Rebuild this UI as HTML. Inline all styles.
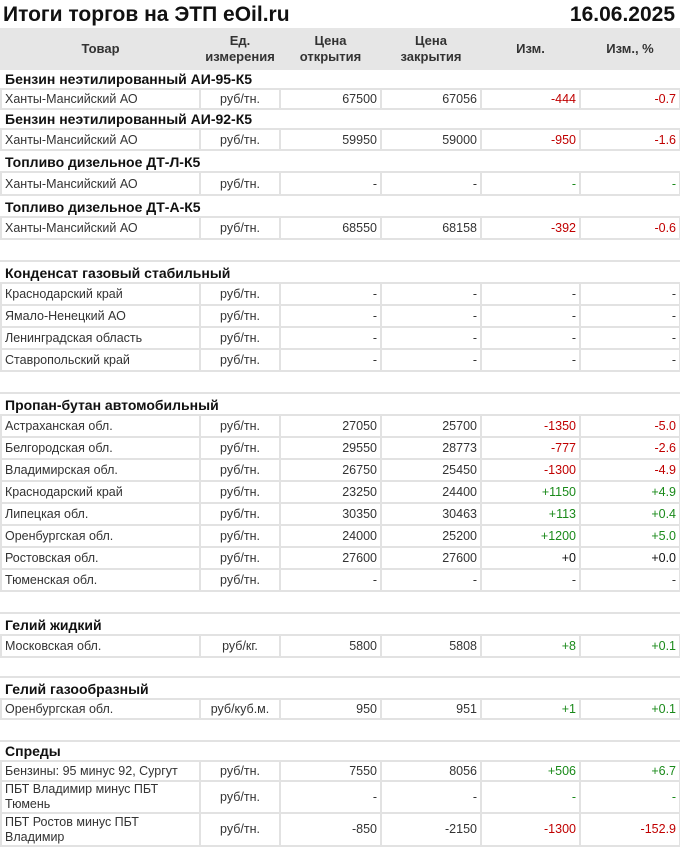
<!DOCTYPE html>
<html><head><meta charset="utf-8"><style>
body{margin:0;background:#fff;width:680px;height:849px;overflow:hidden;font-family:"Liberation Sans","DejaVu Sans",sans-serif;}
.t{position:absolute;top:3px;font-weight:bold;font-size:21px;color:#111;}
table{position:absolute;left:0;top:28px;border-collapse:collapse;table-layout:fixed;width:679px;}
td{padding:0 3px;font-size:12.5px;color:#333;border:2px solid #e2e2e2;white-space:nowrap;overflow:hidden;}
tr.h td{background:#e6e6e6;border-color:#e6e6e6;font-weight:bold;font-size:13px;color:#333;text-align:center;line-height:16px;}
tr.s td{font-weight:bold;font-size:14px;color:#111;border-left-color:#fff;border-right-color:#fff;border-top:none;vertical-align:bottom;padding-bottom:1px;}
tr.e td{border-left-color:#fff;border-right-color:#fff;}
td.c{text-align:center}td.r{text-align:right}
.red{color:#c00000}.grn{color:#1a8a1a}.blk{color:#111}
tr.d2 td{white-space:normal;line-height:15px;}
</style></head><body>
<div class="t" style="left:3px">Итоги торгов на ЭТП eOil.ru</div>
<div class="t" style="right:5px">16.06.2025</div>
<table>
<colgroup><col style="width:199px"><col style="width:80px"><col style="width:101px"><col style="width:100px"><col style="width:99px"><col style="width:100px"></colgroup>
<tr class="h" style="height:40px"><td>Товар</td><td>Ед.<br>измерения</td><td>Цена<br>открытия</td><td>Цена<br>закрытия</td><td>Изм.</td><td>Изм., %</td></tr>
<tr class="s" style="height:20px"><td colspan="6">Бензин неэтилированный АИ-95-К5</td></tr>
<tr style="height:20px"><td>Ханты-Мансийский АО</td><td class="c">руб/тн.</td><td class="r">67500</td><td class="r">67056</td><td class="r red">-444</td><td class="r red">-0.7</td></tr>
<tr class="s" style="height:20px"><td colspan="6">Бензин неэтилированный АИ-92-К5</td></tr>
<tr style="height:21px"><td>Ханты-Мансийский АО</td><td class="c">руб/тн.</td><td class="r">59950</td><td class="r">59000</td><td class="r red">-950</td><td class="r red">-1.6</td></tr>
<tr class="s" style="height:22px"><td colspan="6">Топливо дизельное ДТ-Л-К5</td></tr>
<tr style="height:23px"><td>Ханты-Мансийский АО</td><td class="c">руб/тн.</td><td class="r">-</td><td class="r">-</td><td class="r grn">-</td><td class="r grn">-</td></tr>
<tr class="s" style="height:22px"><td colspan="6">Топливо дизельное ДТ-А-К5</td></tr>
<tr style="height:22px"><td>Ханты-Мансийский АО</td><td class="c">руб/тн.</td><td class="r">68550</td><td class="r">68158</td><td class="r red">-392</td><td class="r red">-0.6</td></tr>
<tr class="e" style="height:22px"><td colspan="6"></td></tr>
<tr class="s" style="height:22px"><td colspan="6">Конденсат газовый стабильный</td></tr>
<tr style="height:22px"><td>Краснодарский край</td><td class="c">руб/тн.</td><td class="r">-</td><td class="r">-</td><td class="r">-</td><td class="r">-</td></tr>
<tr style="height:22px"><td>Ямало-Ненецкий АО</td><td class="c">руб/тн.</td><td class="r">-</td><td class="r">-</td><td class="r">-</td><td class="r">-</td></tr>
<tr style="height:22px"><td>Ленинградская область</td><td class="c">руб/тн.</td><td class="r">-</td><td class="r">-</td><td class="r">-</td><td class="r">-</td></tr>
<tr style="height:22px"><td>Ставропольский край</td><td class="c">руб/тн.</td><td class="r">-</td><td class="r">-</td><td class="r">-</td><td class="r">-</td></tr>
<tr class="e" style="height:22px"><td colspan="6"></td></tr>
<tr class="s" style="height:22px"><td colspan="6">Пропан-бутан автомобильный</td></tr>
<tr style="height:22px"><td>Астраханская обл.</td><td class="c">руб/тн.</td><td class="r">27050</td><td class="r">25700</td><td class="r red">-1350</td><td class="r red">-5.0</td></tr>
<tr style="height:22px"><td>Белгородская обл.</td><td class="c">руб/тн.</td><td class="r">29550</td><td class="r">28773</td><td class="r red">-777</td><td class="r red">-2.6</td></tr>
<tr style="height:22px"><td>Владимирская обл.</td><td class="c">руб/тн.</td><td class="r">26750</td><td class="r">25450</td><td class="r red">-1300</td><td class="r red">-4.9</td></tr>
<tr style="height:22px"><td>Краснодарский край</td><td class="c">руб/тн.</td><td class="r">23250</td><td class="r">24400</td><td class="r grn">+1150</td><td class="r grn">+4.9</td></tr>
<tr style="height:22px"><td>Липецкая обл.</td><td class="c">руб/тн.</td><td class="r">30350</td><td class="r">30463</td><td class="r grn">+113</td><td class="r grn">+0.4</td></tr>
<tr style="height:22px"><td>Оренбургская обл.</td><td class="c">руб/тн.</td><td class="r">24000</td><td class="r">25200</td><td class="r grn">+1200</td><td class="r grn">+5.0</td></tr>
<tr style="height:22px"><td>Ростовская обл.</td><td class="c">руб/тн.</td><td class="r">27600</td><td class="r">27600</td><td class="r blk">+0</td><td class="r blk">+0.0</td></tr>
<tr style="height:22px"><td>Тюменская обл.</td><td class="c">руб/тн.</td><td class="r">-</td><td class="r">-</td><td class="r">-</td><td class="r">-</td></tr>
<tr class="e" style="height:22px"><td colspan="6"></td></tr>
<tr class="s" style="height:22px"><td colspan="6">Гелий жидкий</td></tr>
<tr style="height:22px"><td>Московская обл.</td><td class="c">руб/кг.</td><td class="r">5800</td><td class="r">5808</td><td class="r grn">+8</td><td class="r grn">+0.1</td></tr>
<tr class="e" style="height:20px"><td colspan="6"></td></tr>
<tr class="s" style="height:22px"><td colspan="6">Гелий газообразный</td></tr>
<tr style="height:20px"><td>Оренбургская обл.</td><td class="c">руб/куб.м.</td><td class="r">950</td><td class="r">951</td><td class="r grn">+1</td><td class="r grn">+0.1</td></tr>
<tr class="e" style="height:22px"><td colspan="6"></td></tr>
<tr class="s" style="height:20px"><td colspan="6">Спреды</td></tr>
<tr style="height:20px"><td>Бензины: 95 минус 92, Сургут</td><td class="c">руб/тн.</td><td class="r">7550</td><td class="r">8056</td><td class="r grn">+506</td><td class="r grn">+6.7</td></tr>
<tr class="d2" style="height:32px"><td>ПБТ Владимир минус ПБТ Тюмень</td><td class="c">руб/тн.</td><td class="r">-</td><td class="r">-</td><td class="r grn">-</td><td class="r grn">-</td></tr>
<tr class="d2" style="height:33px"><td>ПБТ Ростов минус ПБТ Владимир</td><td class="c">руб/тн.</td><td class="r">-850</td><td class="r">-2150</td><td class="r red">-1300</td><td class="r red">-152.9</td></tr>
</table>
</body></html>
